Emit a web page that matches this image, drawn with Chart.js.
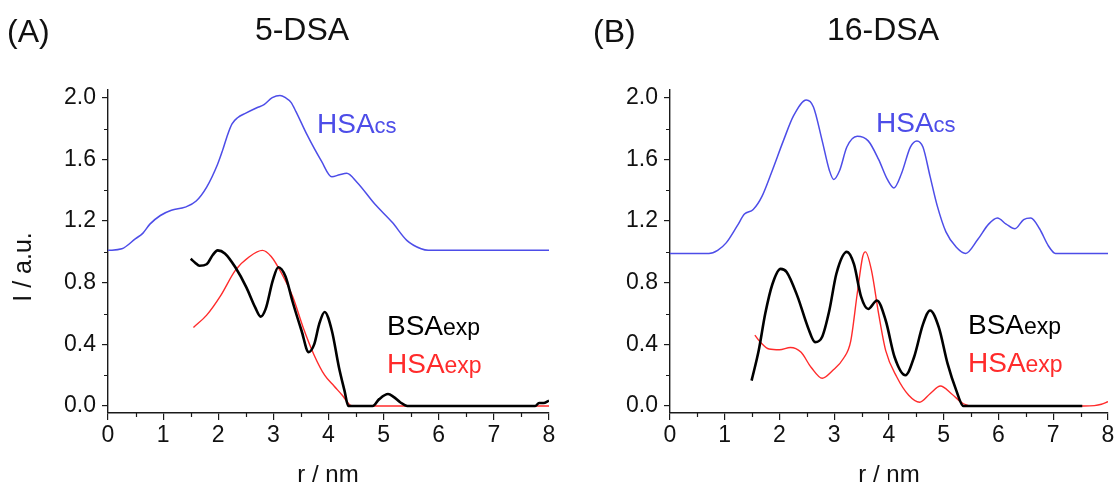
<!DOCTYPE html>
<html><head><meta charset="utf-8">
<script src="https://cdn.jsdelivr.net/npm/chart.js@4.4.1/dist/chart.umd.min.js"></script>
<style>
html,body{margin:0;padding:0;background:#fff;overflow:hidden;}
#wrap{position:relative;width:1117px;height:488px;background:#fff;}
canvas{position:absolute;top:0;}
</style></head><body>
<div id="wrap">
<canvas id="cA" width="558" height="488" style="left:0px"></canvas>
<canvas id="cB" width="559" height="488" style="left:558px"></canvas>
</div>
<script>
// ---------- tick values ----------
const xTickValues = [0, 1, 2, 3, 4, 5, 6, 7, 8];
const xMinorTicks = [0.5, 1.5, 2.5, 3.5, 4.5, 5.5, 6.5, 7.5];
const yTickValues = [0.0, 0.4, 0.8, 1.2, 1.6, 2.0];
const yMinorTicks = [0.2, 0.6, 1.0, 1.4, 1.8];

// ---------- Panel A (5-DSA) ----------
const rA_HSAcs = [0, 0.25, 0.5, 0.63, 0.76, 0.95, 1.15, 1.4, 1.6, 1.79, 1.99, 2.08, 2.17, 2.25, 2.35, 2.5, 2.7, 2.83, 2.98, 3.12, 3.22, 3.32, 3.41, 3.61, 3.87, 4.06, 4.2, 4.33, 4.52, 4.84, 5.16, 5.42, 5.68, 5.81, 6.2, 8.0];
const iA_HSAcs = [1.01, 1.02, 1.086, 1.12, 1.18, 1.236, 1.27, 1.29, 1.33, 1.42, 1.57, 1.66, 1.76, 1.83, 1.87, 1.90, 1.935, 1.955, 2.0, 2.015, 2.0, 1.97, 1.91, 1.76, 1.59, 1.487, 1.50, 1.51, 1.45, 1.31, 1.19, 1.075, 1.02, 1.01, 1.01, 1.01];

const rA_HSAexp = [1.55, 1.79, 2.05, 2.31, 2.57, 2.80, 2.96, 3.15, 3.35, 3.54, 3.74, 3.93, 4.10, 4.25, 4.40, 4.50, 8.05];
const iA_HSAexp = [0.51, 0.59, 0.72, 0.88, 0.97, 1.01, 0.97, 0.86, 0.71, 0.51, 0.33, 0.20, 0.13, 0.07, 0.005, 0.0, 0.0];

const rA_BSAexp = [1.50, 1.58, 1.66, 1.79, 1.90, 1.99, 2.12, 2.31, 2.51, 2.67, 2.77, 2.86, 2.99, 3.09, 3.22, 3.35, 3.51, 3.64, 3.74, 3.83, 3.93, 4.06, 4.19, 4.29, 4.36, 4.80, 4.92, 5.08, 5.18, 5.30, 5.43, 7.75, 7.82, 7.90, 8.0];
const iA_BSAexp = [0.955, 0.93, 0.91, 0.92, 0.98, 1.01, 0.99, 0.90, 0.77, 0.64, 0.58, 0.63, 0.815, 0.90, 0.84, 0.675, 0.49, 0.35, 0.40, 0.53, 0.61, 0.49, 0.25, 0.10, 0.0, 0.0, 0.045, 0.078, 0.06, 0.025, 0.0, 0.0, 0.02, 0.02, 0.035];

// ---------- Panel B (16-DSA) ----------
const rB_HSAcs = [0, 0.71, 0.87, 1.03, 1.23, 1.36, 1.52, 1.68, 1.87, 2.07, 2.26, 2.49, 2.62, 2.78, 2.91, 2.99, 3.10, 3.23, 3.42, 3.62, 3.81, 3.97, 4.09, 4.23, 4.39, 4.51, 4.62, 4.75, 4.88, 5.04, 5.23, 5.40, 5.62, 5.82, 5.98, 6.14, 6.30, 6.46, 6.59, 6.75, 6.91, 7.04, 8.0];
const iB_HSAcs = [0.99, 0.99, 1.01, 1.06, 1.17, 1.245, 1.275, 1.36, 1.53, 1.72, 1.885, 1.985, 1.94, 1.72, 1.53, 1.47, 1.53, 1.68, 1.75, 1.72, 1.60, 1.47, 1.415, 1.51, 1.68, 1.72, 1.68, 1.49, 1.30, 1.13, 1.03, 0.99, 1.08, 1.18, 1.22, 1.18, 1.15, 1.21, 1.22, 1.15, 1.04, 0.99, 0.99];

const rB_HSAexp = [1.55, 1.65, 1.81, 2.00, 2.20, 2.39, 2.58, 2.78, 2.97, 3.17, 3.30, 3.42, 3.52, 3.57, 3.68, 3.81, 3.94, 4.14, 4.36, 4.56, 4.75, 4.94, 5.14, 5.36, 5.56, 7.56, 7.75, 7.88, 8.0];
const iB_HSAexp = [0.46, 0.415, 0.37, 0.365, 0.38, 0.35, 0.25, 0.18, 0.23, 0.31, 0.42, 0.73, 0.97, 1.0, 0.88, 0.60, 0.36, 0.19, 0.07, 0.025, 0.08, 0.13, 0.08, 0.015, 0.0, 0.0, 0.003, 0.012, 0.028];

const rB_BSAexp = [1.49, 1.62, 1.74, 1.87, 2.02, 2.13, 2.33, 2.52, 2.65, 2.78, 2.91, 3.04, 3.23, 3.36, 3.49, 3.62, 3.78, 3.94, 4.10, 4.30, 4.46, 4.62, 4.75, 4.91, 5.07, 5.23, 5.36, 7.53];
const iB_BSAexp = [0.165, 0.36, 0.60, 0.79, 0.89, 0.87, 0.71, 0.51, 0.415, 0.45, 0.62, 0.86, 1.0, 0.92, 0.71, 0.63, 0.685, 0.555, 0.32, 0.20, 0.32, 0.53, 0.62, 0.51, 0.275, 0.10, 0.0, 0.0];

// ---------- styling ----------
const FONT = '"Liberation Sans", Arial, Helvetica, sans-serif';
const BLUE = '#4d4de8';
const RED = '#ff2b2b';
const BLACK = '#000000';
const AXIS = '#1a1a1a';

const pts = (xs, ys) => xs.map((x, i) => ({x: x, y: ys[i]}));

const textPlugin = {
  id: 'panelText',
  afterDraw(chart, args, opts) {
    const ctx = chart.ctx;
    (opts.items || []).forEach(it => {
      ctx.save();
      ctx.translate(it.x, it.y);
      if (it.rotate) ctx.rotate(it.rotate);
      ctx.fillStyle = it.color || '#111';
      ctx.textBaseline = it.baseline || 'middle';
      if (it.parts) {
        ctx.textAlign = 'left';
        let x = 0;
        it.parts.forEach(p => {
          ctx.font = p.size + 'px ' + FONT;
          ctx.fillText(p.text, x, 0);
          x += ctx.measureText(p.text).width;
        });
      } else {
        ctx.font = it.size + 'px ' + FONT;
        ctx.textAlign = it.align || 'center';
        ctx.fillText(it.text, 0, 0);
      }
      ctx.restore();
    });
  }
};

const minorTickPlugin = {
  id: 'minorTicks',
  afterDraw(chart, args, opts) {
    const {ctx, chartArea} = chart;
    const sx = chart.scales.x, sy = chart.scales.y;
    ctx.save();
    ctx.strokeStyle = AXIS;
    ctx.lineWidth = 1.2;
    ctx.beginPath();
    xMinorTicks.forEach(v => {
      const px = Math.round(sx.getPixelForValue(v)) + 0.5;
      ctx.moveTo(px, chartArea.bottom);
      ctx.lineTo(px, chartArea.bottom + opts.len);
    });
    yMinorTicks.forEach(v => {
      const py = Math.round(sy.getPixelForValue(v)) + 0.5;
      ctx.moveTo(chartArea.left, py);
      ctx.lineTo(chartArea.left - opts.len, py);
    });
    ctx.stroke();
    ctx.restore();
  }
};

function makeScales(yAxisWidth) {
  return {
    x: {
      type: 'linear', min: 0, max: 8,
      afterBuildTicks: s => { s.ticks = xTickValues.map(v => ({value: v})); },
      afterFit: s => { s.height = 75; },
      grid: {drawOnChartArea: false, drawTicks: true, tickLength: 7, color: AXIS, lineWidth: 1.2},
      border: {display: true, color: AXIS, width: 1.4},
      ticks: {font: {family: FONT, size: 23}, color: '#111', padding: 2, maxRotation: 0, autoSkip: false,
               callback: v => String(v)}
    },
    y: {
      type: 'linear', min: -0.045, max: 2.05,
      afterBuildTicks: s => { s.ticks = yTickValues.map(v => ({value: v})); },
      afterFit: s => { s.width = yAxisWidth; },
      grid: {drawOnChartArea: false, drawTicks: true, tickLength: 6, color: AXIS, lineWidth: 1.2},
      border: {display: true, color: AXIS, width: 1.4},
      ticks: {font: {family: FONT, size: 23}, color: '#111', padding: 6, autoSkip: false,
              callback: v => Number(v).toFixed(1)}
    }
  };
}

function makeDatasets(rCs, iCs, rHe, iHe, rBe, iBe) {
  const common = {pointRadius: 0, fill: false, cubicInterpolationMode: 'monotone', tension: 0.4};
  return [
    Object.assign({label: 'BSAexp', data: pts(rBe, iBe), borderColor: BLACK, borderWidth: 2.6}, common),
    Object.assign({label: 'HSAexp', data: pts(rHe, iHe), borderColor: RED, borderWidth: 1.4}, common),
    Object.assign({label: 'HSAcs', data: pts(rCs, iCs), borderColor: BLUE, borderWidth: 1.5}, common)
  ];
}

function makeChart(id, datasets, yAxisWidth, texts) {
  return new Chart(document.getElementById(id), {
    type: 'line',
    data: {datasets: datasets},
    options: {
      responsive: false,
      animation: false,
      devicePixelRatio: 1,
      layout: {padding: {top: 90, right: 9, left: 0, bottom: 0}},
      scales: makeScales(yAxisWidth),
      plugins: {
        legend: {display: false},
        tooltip: {enabled: false},
        panelText: {items: texts},
        minorTicks: {len: 4}
      }
    },
    plugins: [minorTickPlugin, textPlugin]
  });
}

makeChart('cA',
  makeDatasets(rA_HSAcs, iA_HSAcs, rA_HSAexp, iA_HSAexp, rA_BSAexp, iA_BSAexp),
  108,
  [
    {text: '(A)', x: 7, y: 33, size: 32, align: 'left'},
    {text: '5-DSA', x: 302, y: 31, size: 32},
    {text: 'I / a.u.', x: 24, y: 267, size: 25, rotate: -Math.PI / 2},
    {text: 'r / nm', x: 328, y: 475, size: 24},
    {parts: [{text: 'HSA', size: 28}, {text: 'cs', size: 22}], x: 317, y: 133, baseline: 'alphabetic', color: BLUE},
    {parts: [{text: 'BSA', size: 28}, {text: 'exp', size: 23}], x: 387, y: 335, baseline: 'alphabetic', color: BLACK},
    {parts: [{text: 'HSA', size: 28}, {text: 'exp', size: 23}], x: 387, y: 373, baseline: 'alphabetic', color: RED}
  ]);

makeChart('cB',
  makeDatasets(rB_HSAcs, iB_HSAcs, rB_HSAexp, iB_HSAexp, rB_BSAexp, iB_BSAexp),
  112,
  [
    {text: '(B)', x: 35, y: 33, size: 32, align: 'left'},
    {text: '16-DSA', x: 325, y: 31, size: 32},
    {text: 'r / nm', x: 331, y: 475, size: 24},
    {parts: [{text: 'HSA', size: 28}, {text: 'cs', size: 22}], x: 318, y: 132, baseline: 'alphabetic', color: BLUE},
    {parts: [{text: 'BSA', size: 28}, {text: 'exp', size: 23}], x: 410, y: 334, baseline: 'alphabetic', color: BLACK},
    {parts: [{text: 'HSA', size: 28}, {text: 'exp', size: 23}], x: 410, y: 372, baseline: 'alphabetic', color: RED}
  ]);
</script>
</body></html>
